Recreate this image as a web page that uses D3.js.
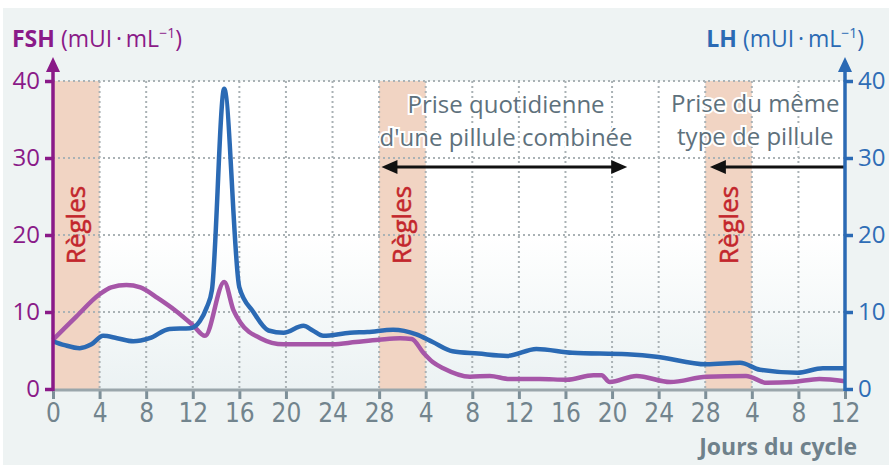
<!DOCTYPE html>
<html>
<head>
<meta charset="utf-8">
<script src="https://cdn.jsdelivr.net/npm/d3@7"></script>
<style>
  html, body { margin: 0; padding: 0; background: #fff; }
  svg { display: block; }
  text { font-family: "Open Sans", sans-serif; }
</style>
</head>
<body>
<div id="chart"></div>
<script>
// days are counted continuously over the 3 cycles (0..68)
var lhDays   = [0, 1, 2.3, 3.3, 4.3, 5.5, 6.9, 8.3, 10, 11.8, 12.6, 13.2, 13.65, 14.7, 16, 17.2, 18.5, 19.8, 21.5, 22.3, 23.2, 25.5, 27, 29.2, 31.2, 32.6, 34.3, 36.5, 39, 41.5, 44.6, 49.3, 51.8, 56.1, 59, 60.7, 63.9, 66.1, 68]
var lhValues = [6.2, 5.7, 5.3, 5.8, 6.9, 6.6, 6.2, 6.6, 7.8, 7.9, 8.8, 10.6, 12.9, 39, 13.2, 10, 7.6, 7.3, 8.2, 7.6, 6.9, 7.3, 7.4, 7.7, 7.1, 6.1, 4.9, 4.6, 4.3, 5.2, 4.7, 4.5, 4.2, 3.2, 3.4, 2.5, 2.1, 2.7, 2.7]

var fshDays   = [0, 2, 4, 5, 6.3, 7.5, 9, 10.5, 12, 13.05, 14.7, 15.5, 16.1, 17.8, 19.8, 24, 26, 28, 29.8, 30.8, 31.8, 32.6, 33.5, 35.8, 37.5, 39.2, 41.8, 44.1, 46.4, 47.1, 47.8, 50.1, 53, 56.1, 59.5, 61.3, 63.5, 65.8, 68]
var fshValues = [6.4, 9.4, 12.3, 13.2, 13.5, 13.2, 11.8, 10.2, 8.3, 6.9, 13.9, 10.2, 8.6, 6.6, 5.8, 5.8, 6.1, 6.4, 6.6, 6.5, 4.7, 3.5, 2.7, 1.6, 1.7, 1.3, 1.3, 1.2, 1.8, 1.8, 0.9, 1.7, 0.9, 1.6, 1.7, 0.8, 0.9, 1.3, 1.0]

var xTickDays   = [0, 4, 8, 12, 16, 20, 24, 28, 32, 36, 40, 44, 48, 52, 56, 60, 64, 68]
var xTickLabels = ["0", "4", "8", "12", "16", "20", "24", "28", "4", "8", "12", "16", "20", "24", "28", "4", "8", "12"]
var yTicks = [0, 10, 20, 30, 40]

// menstruation periods [start, end] in days
var regles = [[0, 4], [28, 32], [56, 60]]

var width = 889, height = 465

var x = d3.scaleLinear().domain([0, 68]).range([53, 845])
var yFsh = d3.scaleLinear().domain([0, 40]).range([389, 81])
var yLh = d3.scaleLinear().domain([0, 40]).range([389, 81])

var svg = d3.select('#chart').append('svg')
    .attr('width', width)
    .attr('height', height)

var defs = svg.append('defs')
var grad = defs.append('linearGradient')
    .attr('id', 'plotbg')
    .attr('x1', 0).attr('y1', 0).attr('x2', 0).attr('y2', 1)
grad.append('stop').attr('offset', '0%').attr('stop-color', '#ffffff')
grad.append('stop').attr('offset', '50%').attr('stop-color', '#ffffff')
grad.append('stop').attr('offset', '100%').attr('stop-color', '#ebf2f3')

// panel
svg.append('rect')
    .attr('x', 3).attr('y', 8)
    .attr('width', width - 3).attr('height', height - 8)
    .attr('fill', '#eef3f3')

svg.append('rect')
    .attr('x', x(0)).attr('y', yLh(40))
    .attr('width', x(68) - x(0)).attr('height', yLh(0) - yLh(40))
    .attr('fill', 'url(#plotbg)')

// règles bands
svg.selectAll('.band')
    .data(regles)
    .enter().append('rect')
    .attr('class', 'band')
    .attr('x', function (d) { return x(d[0]) })
    .attr('y', yLh(40))
    .attr('width', function (d) { return x(d[1]) - x(d[0]) })
    .attr('height', yLh(0) - yLh(40))
    .attr('fill', '#f1d4c3')

// grid
var grid = svg.append('g')
    .attr('stroke', '#aab2b5')
    .attr('stroke-width', 2)
    .attr('stroke-dasharray', '2,3')
grid.selectAll('.vg')
    .data(xTickDays.slice(1, -1))
    .enter().append('line')
    .attr('x1', function (d) { return x(d) })
    .attr('x2', function (d) { return x(d) })
    .attr('y1', yLh(40)).attr('y2', yLh(0))
grid.selectAll('.hg')
    .data(yTicks.slice(1))
    .enter().append('line')
    .attr('x1', x(0)).attr('x2', x(68))
    .attr('y1', function (d) { return yLh(d) })
    .attr('y2', function (d) { return yLh(d) })

// règles labels
svg.selectAll('.regles')
    .data(regles)
    .enter().append('text')
    .attr('transform', function (d) {
        return 'translate(' + (x((d[0] + d[1]) / 2) + 9) + ',' + 225 + ') rotate(-90)'
    })
    .attr('text-anchor', 'middle')
    .attr('font-size', 26)
    .attr('fill', '#c3262c')
    .attr('stroke', '#c3262c')
    .attr('stroke-width', 0.5)
    .text('Règles')

// curves
var lineFsh = d3.line()
    .x(function (d) { return x(d[0]) })
    .y(function (d) { return yFsh(d[1]) })
    .curve(d3.curveMonotoneX)
var lineLh = d3.line()
    .x(function (d) { return x(d[0]) })
    .y(function (d) { return yLh(d[1]) })
    .curve(d3.curveMonotoneX)

svg.append('path')
    .datum(d3.zip(fshDays, fshValues))
    .attr('d', lineFsh)
    .attr('fill', 'none')
    .attr('stroke', '#a656a8')
    .attr('stroke-width', 4.5)
    .attr('stroke-linejoin', 'round')

svg.append('path')
    .datum(d3.zip(lhDays, lhValues))
    .attr('d', lineLh)
    .attr('fill', 'none')
    .attr('stroke', '#2b6ab4')
    .attr('stroke-width', 4.5)
    .attr('stroke-linejoin', 'round')

// annotations
function arrowHead(px, py, dir) {
    svg.append('path')
        .attr('d', 'M' + px + ',' + py + 'l' + (-dir * 16) + ',-7l0,14z')
        .attr('fill', '#111')
}
var ay = 167
svg.append('line')
    .attr('x1', x(28.2) + 10).attr('x2', x(49.3) - 10)
    .attr('y1', ay).attr('y2', ay)
    .attr('stroke', '#111').attr('stroke-width', 3)
arrowHead(x(28.2), ay, -1)
arrowHead(x(49.3), ay, 1)

svg.append('line')
    .attr('x1', x(56.4) + 10).attr('x2', x(68))
    .attr('y1', ay).attr('y2', ay)
    .attr('stroke', '#111').attr('stroke-width', 3)
arrowHead(x(56.4), ay, -1)

var notes = [
    { day: 38.9, y: 113, text: 'Prise quotidienne' },
    { day: 38.9, y: 146, text: "d'une pillule combinée" },
    { day: 60.3, y: 112, text: 'Prise du même' },
    { day: 60.3, y: 145, text: 'type de pillule' }
]
svg.selectAll('.note')
    .data(notes)
    .enter().append('text')
    .attr('x', function (d) { return x(d.day) })
    .attr('y', function (d) { return d.y })
    .attr('text-anchor', 'middle')
    .attr('font-size', 24)
    .attr('fill', '#5e717c')
    .attr('stroke', '#fff')
    .attr('stroke-width', 4)
    .attr('paint-order', 'stroke')
    .text(function (d) { return d.text })

// x axis
var xAxis = d3.axisBottom(x)
    .tickValues(xTickDays)
    .tickFormat(function (d, i) { return xTickLabels[i] })
    .tickSize(10)
    .tickPadding(5)
var gx = svg.append('g')
    .attr('transform', 'translate(0,' + 389 + ')')
    .call(xAxis)
gx.select('.domain').remove()
gx.selectAll('.tick line').attr('stroke', '#7d8f98').attr('stroke-width', 3)
gx.selectAll('.tick text')
    .attr('fill', '#72848d')
    .attr('font-size', 26)
    .style('font-family', '"Liberation Sans Narrow", "DejaVu Sans Condensed", sans-serif')
svg.append('line')
    .attr('x1', x(0)).attr('x2', x(68))
    .attr('y1', 390).attr('y2', 390)
    .attr('stroke', '#9aa6ab').attr('stroke-width', 3)

// y axes
function yAxisLine(xPos, color) {
    svg.append('line')
        .attr('x1', xPos).attr('x2', xPos)
        .attr('y1', 391).attr('y2', 68)
        .attr('stroke', color).attr('stroke-width', 3.5)
    svg.append('path')
        .attr('d', 'M' + xPos + ',57l-7,15l14,0z')
        .attr('fill', color)
}

var gl = svg.append('g')
    .attr('transform', 'translate(' + x(0) + ',0)')
    .call(d3.axisLeft(yFsh).tickValues(yTicks).tickSize(8).tickPadding(5))
gl.select('.domain').remove()
gl.selectAll('.tick line').attr('stroke', '#8a1a88').attr('stroke-width', 3.5)
gl.selectAll('.tick text').attr('fill', '#8a1a88').attr('font-size', 24)
yAxisLine(x(0), '#8a1a88')

var gr = svg.append('g')
    .attr('transform', 'translate(' + x(68) + ',0)')
    .call(d3.axisRight(yLh).tickValues(yTicks).tickSize(8).tickPadding(5))
gr.select('.domain').remove()
gr.selectAll('.tick line').attr('stroke', '#2b6ab4').attr('stroke-width', 3.5)
gr.selectAll('.tick text').attr('fill', '#2f6db6').attr('font-size', 24)
yAxisLine(x(68), '#2b6ab4')

// axis titles
function unitTitle(tx, anchor, name, color) {
    var t = svg.append('text')
        .attr('x', tx).attr('y', 47)
        .attr('text-anchor', anchor)
        .attr('font-size', 23)
        .attr('fill', color)
    t.append('tspan').attr('font-weight', 'bold').text(name + ' ')
    t.append('tspan').text('(mUI\u2009·\u2009mL')
    t.append('tspan').attr('font-size', 14).attr('dy', -9).text('−1')
    t.append('tspan').attr('dy', 9).text(')')
}
unitTitle(12, 'start', 'FSH', '#8a1a88')
unitTitle(864, 'end', 'LH', '#2b6ab4')

svg.append('text')
    .attr('x', 857).attr('y', 455)
    .attr('text-anchor', 'end')
    .attr('font-size', 23)
    .attr('font-weight', 'bold')
    .attr('fill', '#6f818b')
    .text('Jours du cycle')
</script>
</body>
</html>
